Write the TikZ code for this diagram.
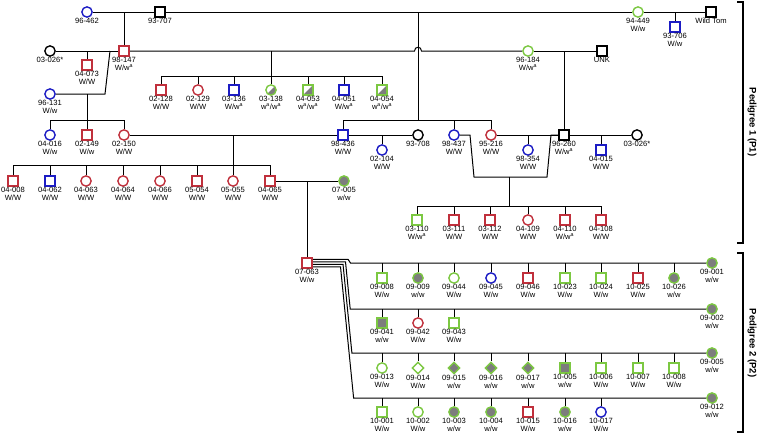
\documentclass[tikz,border=0pt]{standalone}
\usepackage{fontspec}
\setmainfont{Liberation Sans}
\usetikzlibrary{shapes.geometric}
\definecolor{cred}{RGB}{192,48,60}
\definecolor{cblue}{RGB}{28,28,196}
\definecolor{cgreen}{RGB}{124,200,66}
\definecolor{cgray}{RGB}{125,125,125}
\pgfdeclarelayer{bg}
\pgfsetlayers{bg,main}
\newcommand{\lblf}{\fontsize{7.6}{7.9}\selectfont}
\newcommand{\wa}{w\textsuperscript{a}}
\newcommand{\ind}[5]{\node[#4, label={[lbl]below:{#5}}] (#1) at (#2,#3) {};}
\tikzset{
  base/.style={draw, line width=1.4pt, fill=white, inner sep=0pt, label distance=2.4pt},
  sqr/.style={base, rectangle, minimum size=9.8pt},
  cir/.style={base, circle, minimum size=10.3pt},
  dia/.style={base, diamond, minimum size=12pt},
  R/.style={draw=cred}, B/.style={draw=cblue}, G/.style={draw=cgreen}, K/.style={draw=black},
  aff/.style={fill=cgray},
  half/.style={path picture={\fill[cgray] (path picture bounding box.south west) -- (path picture bounding box.north east) -- (path picture bounding box.south east) -- cycle;}},
  lbl/.style={font=\lblf, align=center, inner sep=0pt},
  link/.style={line width=1pt, draw=black},
  brk/.style={line width=1.3pt, draw=black},
  ptitle/.style={font=\fontsize{9.5}{10}\selectfont\bfseries, rotate=-90}
}
\begin{document}
\begin{tikzpicture}[x=1pt,y=-1pt]
\useasboundingbox (0,0) rectangle (758,434);
% ---------- Pedigree 1 ----------
\ind{i96-462}{87}{12}{cir,B}{96-462}
\ind{i93-707}{160}{12}{sqr,K}{93-707}
\ind{i94-449}{638}{12}{cir,G}{94-449\\W/w}
\ind{iWT}{711}{12}{sqr,K}{Wild Tom}
\ind{i93-706}{675}{27}{sqr,B}{93-706\\W/w}

\ind{i03-026a}{50}{51}{cir,K}{03-026*}
\ind{i98-147}{124}{51}{sqr,R}{98-147\\W/\wa}
\ind{i04-073}{87}{65}{sqr,R}{04-073\\W/W}
\ind{i96-131}{50}{94}{cir,B}{96-131\\W/w}
\ind{i96-184}{528}{51}{cir,G}{96-184\\W/\wa}
\ind{iUNK}{602}{51}{sqr,K}{UNK}

\ind{i02-128}{161}{90}{sqr,R}{02-128\\W/W}
\ind{i02-129}{198}{90}{cir,R}{02-129\\W/W}
\ind{i03-136}{234}{90}{sqr,B}{03-136\\W/\wa}
\ind{i03-138}{271}{90}{cir,G,half}{03-138\\\wa/\wa}
\ind{i04-053}{308}{90}{sqr,G,half}{04-053\\\wa/\wa}
\ind{i04-051}{344}{90}{sqr,B}{04-051\\W/\wa}
\ind{i04-054}{382}{90}{sqr,G,half}{04-054\\\wa/\wa}

\ind{i04-016}{50}{135}{cir,B}{04-016\\W/w}
\ind{i02-149}{87}{135}{sqr,R}{02-149\\W/w}
\ind{i02-150}{124}{135}{cir,R}{02-150\\W/W}
\ind{i98-436}{343}{135}{sqr,B}{98-436\\W/W}
\ind{i93-708}{418}{135}{cir,K}{93-708}
\ind{i98-437}{454}{135}{cir,B}{98-437\\W/W}
\ind{i95-216}{491}{135}{cir,R}{95-216\\W/W}
\ind{i96-260}{564}{135}{sqr,K}{96-260\\W/\wa}
\ind{i03-026b}{637}{135}{cir,K}{03-026*}
\ind{i02-104}{382}{150}{cir,B}{02-104\\W/W}
\ind{i98-354}{528}{150}{cir,B}{98-354\\W/W}
\ind{i04-015}{601}{150}{sqr,B}{04-015\\W/W}

\ind{i04-008}{13}{181}{sqr,R}{04-008\\W/W}
\ind{i04-062}{50}{181}{sqr,B}{04-062\\W/W}
\ind{i04-063}{86}{181}{cir,R}{04-063\\W/W}
\ind{i04-064}{123}{181}{cir,R}{04-064\\W/W}
\ind{i04-066}{160}{181}{cir,R}{04-066\\W/W}
\ind{i05-054}{197}{181}{sqr,R}{05-054\\W/W}
\ind{i05-055}{233}{181}{cir,R}{05-055\\W/W}
\ind{i04-065}{270}{181}{sqr,R}{04-065\\W/W}
\ind{i07-005}{344}{181}{cir,G,aff}{07-005\\w/w}

\ind{i03-110}{417}{220}{sqr,G}{03-110\\W/\wa}
\ind{i03-111}{454}{220}{sqr,R}{03-111\\W/W}
\ind{i03-112}{490}{220}{sqr,R}{03-112\\W/W}
\ind{i04-109}{528}{220}{cir,R}{04-109\\W/W}
\ind{i04-110}{565}{220}{sqr,R}{04-110\\W/\wa}
\ind{i04-108}{601}{220}{sqr,R}{04-108\\W/W}

% ---------- Pedigree 2 ----------
\ind{i07-063}{307}{263}{sqr,R}{07-063\\W/w}
\ind{i09-001}{712}{263}{cir,G,aff}{09-001\\w/w}
\ind{i09-002}{712}{309}{cir,G,aff}{09-002\\w/w}
\ind{i09-005}{712}{353}{cir,G,aff}{09-005\\w/w}
\ind{i09-012}{712}{398}{cir,G,aff}{09-012\\w/w}

\ind{i09-008}{382}{278}{sqr,G}{09-008\\W/w}
\ind{i09-009}{418}{278}{cir,G,aff}{09-009\\w/w}
\ind{i09-044}{454}{278}{cir,G}{09-044\\W/w}
\ind{i09-045}{491}{278}{cir,B}{09-045\\W/w}
\ind{i09-046}{528}{278}{sqr,R}{09-046\\W/w}
\ind{i10-023}{565}{278}{sqr,G}{10-023\\W/w}
\ind{i10-024}{601}{278}{sqr,G}{10-024\\W/w}
\ind{i10-025}{638}{278}{sqr,R}{10-025\\W/w}
\ind{i10-026}{674}{278}{cir,G,aff}{10-026\\w/w}

\ind{i09-041}{382}{323}{sqr,G,aff}{09-041\\w/w}
\ind{i09-042}{418}{323}{cir,R}{09-042\\W/w}
\ind{i09-043}{454}{323}{sqr,G}{09-043\\W/w}

\ind{i09-013}{382}{368}{cir,G}{09-013\\W/w}
\ind{i09-014}{418}{368}{dia,G}{09-014\\W/w}
\ind{i09-015}{454}{368}{dia,G,aff}{09-015\\w/w}
\ind{i09-016}{491}{368}{dia,G,aff}{09-016\\w/w}
\ind{i09-017}{528}{368}{dia,G,aff}{09-017\\w/w}
\ind{i10-005}{565}{368}{sqr,G,aff}{10-005\\w/w}
\ind{i10-006}{601}{368}{sqr,G}{10-006\\W/w}
\ind{i10-007}{638}{368}{sqr,G}{10-007\\W/w}
\ind{i10-008}{674}{368}{sqr,G}{10-008\\W/w}

\ind{i10-001}{382}{412}{sqr,G}{10-001\\W/w}
\ind{i10-002}{418}{412}{cir,G}{10-002\\W/w}
\ind{i10-003}{454}{412}{cir,G,aff}{10-003\\w/w}
\ind{i10-004}{491}{412}{cir,G,aff}{10-004\\w/w}
\ind{i10-015}{528}{412}{sqr,R}{10-015\\W/w}
\ind{i10-016}{565}{412}{cir,G,aff}{10-016\\w/w}
\ind{i10-017}{601}{412}{cir,B}{10-017\\W/w}

% titles
\node[ptitle] (p1) at (752,122) {Pedigree 1 (P1)};
\node[ptitle] (p2) at (752,343) {Pedigree 2 (P2)};

% coordinates
\coordinate (d98) at (124,12);
\coordinate (dtop) at (418,12);
\coordinate (s120) at (418,120);
\coordinate (d706) at (675,12);
\coordinate (d073) at (87,51);
\coordinate (j1) at (105,94);
\coordinate (j2) at (110,51);
\coordinate (d131) at (87,94);
\coordinate (sA) at (87,120);
\coordinate (h1) at (414.5,51);
\coordinate (h2) at (421.5,51);
\coordinate (d184) at (271,51);
\coordinate (s76) at (271,76);
\coordinate (d260) at (564,51);
\coordinate (d150) at (233,135);
\coordinate (s165) at (233,165);
\coordinate (d104) at (382,135);
\coordinate (d354) at (528,135);
\coordinate (d015) at (601,135);
\coordinate (q1) at (470,135);
\coordinate (q2) at (474,177);
\coordinate (q3) at (547,177);
\coordinate (q4) at (551,135);
\coordinate (d437) at (509,177);
\coordinate (s206) at (509,206);
\coordinate (d065) at (307,181);

\begin{pgfonlayer}{bg}
\draw[link] (i96-462) -- (i93-707) -- (i94-449) -- (iWT);
\draw[link] (d98) -- (i98-147);
\draw[link] (dtop) -- (s120);
\draw[link] (d706) -- (i93-706);
\draw[link] (i03-026a) -- (i98-147);
\draw[link] (d073) -- (i04-073);
\draw[link] (i96-131) -- (j1) -- (j2);
\draw[link] (d131) -- (sA);
\draw[link] (i04-016 |- sA) -- (i02-150 |- sA);
\foreach \k in {i04-016,i02-149,i02-150} \draw[link] (\k |- sA) -- (\k);
\draw[link] (i98-147) -- (h1) .. controls (414.5,46) and (421.5,46) .. (h2) -- (i96-184);
\draw[link] (d184) -- (s76);
\draw[link] (i02-128 |- s76) -- (i04-054 |- s76);
\foreach \k in {i02-128,i02-129,i03-136,i03-138,i04-053,i04-051,i04-054} \draw[link] (\k |- s76) -- (\k);
\draw[link] (i96-184) -- (iUNK);
\draw[link] (d260) -- (i96-260);
\draw[link] (i98-436 |- s120) -- (i95-216 |- s120);
\foreach \k in {i98-436,i98-437,i95-216} \draw[link] (\k |- s120) -- (\k);
\draw[link] (i02-150) -- (i98-436);
\draw[link] (d150) -- (s165);
\draw[link] (i04-008 |- s165) -- (i04-065 |- s165);
\foreach \k in {i04-008,i04-062,i04-063,i04-064,i04-066,i05-054,i05-055,i04-065} \draw[link] (\k |- s165) -- (\k);
\draw[link] (i98-436) -- (i93-708);
\draw[link] (d104) -- (i02-104);
\draw[link] (i95-216) -- (i96-260);
\draw[link] (d354) -- (i98-354);
\draw[link] (i96-260) -- (i03-026b);
\draw[link] (d015) -- (i04-015);
\draw[link] (i98-437) -- (q1) -- (q2) -- (q3) -- (q4) -- (i96-260);
\draw[link] (d437) -- (s206);
\draw[link] (i03-110 |- s206) -- (i04-108 |- s206);
\foreach \k in {i03-110,i03-111,i03-112,i04-109,i04-110,i04-108} \draw[link] (\k |- s206) -- (\k);
\draw[link] (i04-065) -- (i07-005);
\draw[link] (d065) -- (i07-063);
% bundle
\draw[link] ([yshift=3.75pt]i07-063.east) -- (348,259.25) -- (350.5,263) -- (i09-001);
\draw[link] ([yshift=1.25pt]i07-063.east) -- (345.5,261.75) -- (350.2,309) -- (i09-002);
\draw[link] ([yshift=-1.25pt]i07-063.east) -- (343,264.25) -- (351.9,353) -- (i09-005);
\draw[link] ([yshift=-3.75pt]i07-063.east) -- (340.5,266.75) -- (353.6,398) -- (i09-012);
\foreach \k in {i09-008,i09-009,i09-044,i09-045,i09-046,i10-023,i10-024,i10-025,i10-026} \draw[link] (\k |- i09-001) -- (\k);
\foreach \k in {i09-041,i09-042,i09-043} \draw[link] (\k |- i09-002) -- (\k);
\foreach \k in {i09-013,i09-014,i09-015,i09-016,i09-017,i10-005,i10-006,i10-007,i10-008} \draw[link] (\k |- i09-005) -- (\k);
\foreach \k in {i10-001,i10-002,i10-003,i10-004,i10-015,i10-016,i10-017} \draw[link] (\k |- i09-012) -- (\k);
% brackets
\draw[brk] (737,2) -- (743,2) -- (743,243) -- (737,243);
\draw[brk] (737,253) -- (743,253) -- (743,432) -- (737,432);
\end{pgfonlayer}
\end{tikzpicture}
\end{document}
